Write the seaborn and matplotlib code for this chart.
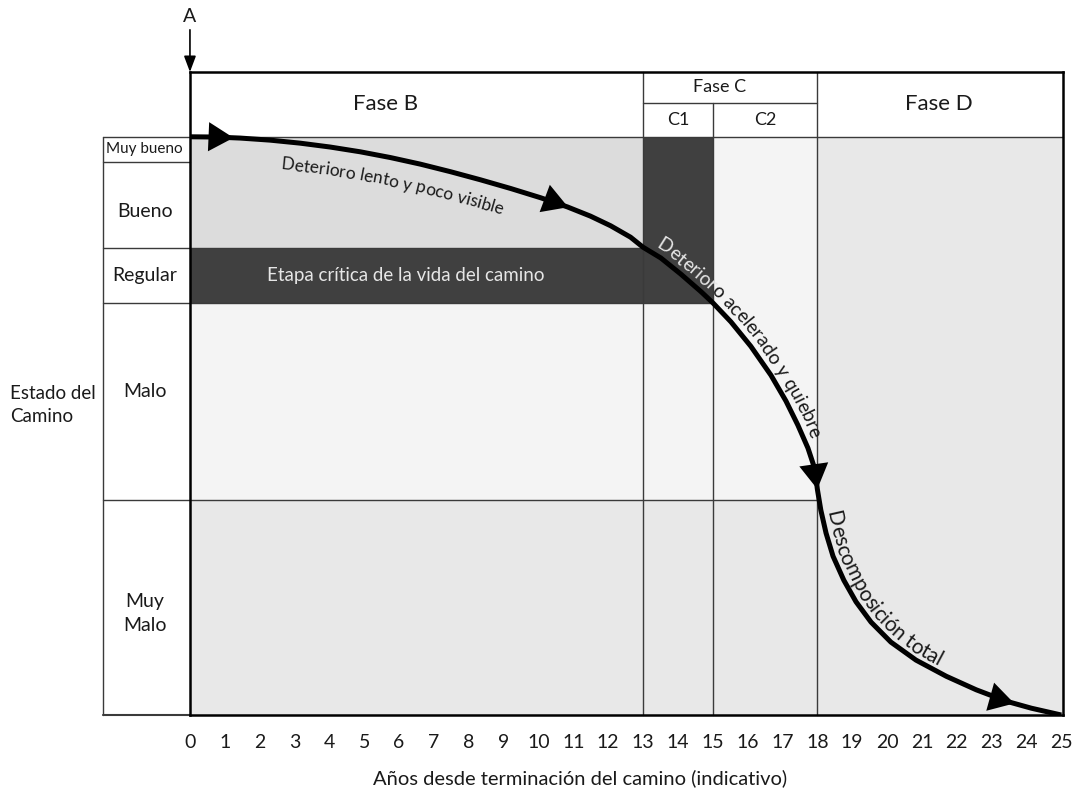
import numpy as np
import matplotlib
matplotlib.use("Agg")
import matplotlib.pyplot as plt
import seaborn as sns
from matplotlib.font_manager import FontProperties

# Datos (años vs estado del camino, escala 0-100)
anios = list(range(0, 26))
anios_curva = [0, 0.72, 1.44, 2.30, 3.16, 4.02, 4.89, 5.75, 6.61, 7.47, 8.33,
               9.20, 10.06, 10.83, 11.49, 12.07, 12.64, 13.0, 13.51, 14.08,
               14.66, 15.0, 15.52, 16.09, 16.67, 17.10, 17.44, 17.73, 17.93,
               18.0, 18.10, 18.25, 18.45, 18.76, 19.11, 19.54, 20.11, 20.83,
               21.70, 22.56, 23.42, 24.14, 25.0]
estado_curva = [100, 99.96, 99.78, 99.42, 98.9, 98.23, 97.40, 96.41, 95.27, 93.97, 92.57,
                91.06, 89.46, 87.87, 86.28, 84.61, 82.64, 80.9, 79.04, 76.27,
                73.23, 71.3, 68.0, 63.78, 58.76, 54.30, 50.15, 46.17, 42.53,
                39.07, 35.44, 31.46, 27.47, 23.31, 19.58, 16.07, 12.61, 9.50,
                6.70, 4.36, 2.39, 1.18, 0]

estados = ["Muy\nMalo", "Malo", "Regular", "Bueno", "Muy bueno"]
limites_estado = [0, 37.2, 71.3, 80.8, 95.7, 100]
pos_etiqueta_estado = [17.5, 55.9, 76.0, 87.0, 97.9]

fases = ["Fase B", "Fase C", "Fase D"]
pos_fase = [5.6, 15.2, 21.5]
subfases = ["C1", "C2"]
limites_subfase = [13, 15, 18]

flechas_anio = [1.25, 10.85, 18.0, 23.65]

TOPE = 111.2      # borde superior de la cabecera
MEDIO_C = 105.9   # linea entre "Fase C" y C1/C2
X_MAX = 25.05
FUENTE = ["Lato", "DejaVu Sans"]
TINTA = "#1a1a1a"

sns.set_theme(style="white")
plt.rcParams["font.family"] = FUENTE

fig = plt.figure(figsize=(10.75, 7.95), dpi=100)
ax = fig.add_axes([0.1767, 0.1006, 0.8122, 0.8088])
ax.set_xlim(0, X_MAX)
ax.set_ylim(0, TOPE)

# Zonas sombreadas
claro, medio, gris, oscuro = "#f4f4f4", "#e8e8e8", "#dcdcdc", "#404040"
ax.fill_between([0, 13], limites_estado[3], 100, color=gris, lw=0, zorder=0)
ax.fill_between([0, 15], limites_estado[1], limites_estado[2], color=claro, lw=0, zorder=0)
ax.fill_between([15, 18], limites_estado[1], 100, color=claro, lw=0, zorder=0)
ax.fill_between([0, 18], 0, limites_estado[1], color=medio, lw=0, zorder=0)
ax.fill_between([18, X_MAX], 0, 100, color=medio, lw=0, zorder=0)
ax.fill_between([0, 15], limites_estado[2], limites_estado[3], color=oscuro, lw=0, zorder=1)
ax.fill_between([13, 15], limites_estado[2], 100, color=oscuro, lw=0, zorder=1)

# Lineas de la tabla
lc = dict(color="#3a3a3a", lw=1.0, zorder=2, clip_on=False)
for xv in [13, 18]:
    ax.plot([xv, xv], [0, TOPE], **lc)
ax.plot([15, 15], [0, MEDIO_C], **lc)
ax.plot([13, 18], [MEDIO_C, MEDIO_C], **lc)
ax.plot([-2.5, X_MAX], [100, 100], **lc)
ax.plot([-2.5, 18], [limites_estado[1]] * 2, **lc)
ax.plot([-2.5, 15], [limites_estado[2]] * 2, **lc)
ax.plot([-2.5, 13], [limites_estado[3]] * 2, **lc)
ax.plot([-2.5, 0], [limites_estado[4]] * 2, **lc)
ax.plot([-2.5, 0], [0, 0], color="#3a3a3a", lw=1.5, zorder=2, clip_on=False)
ax.plot([-2.5, -2.5], [0, 100], **lc)

# Curva de deterioro
sns.lineplot(x=anios_curva, y=estado_curva, sort=False, color="black",
             linewidth=3.6, ax=ax, zorder=5, solid_capstyle="butt",
             solid_joinstyle="round")

fig.canvas.draw()
ren = fig.canvas.get_renderer()
pts = ax.transData.transform(np.column_stack([anios_curva, estado_curva]))
arco = np.concatenate([[0], np.cumsum(np.hypot(*np.diff(pts, axis=0).T))])
inv = ax.transData.inverted()


def en_arco(sc, s, P):
    return np.column_stack([np.interp(sc, s, P[:, 0]), np.interp(sc, s, P[:, 1])])


def punto(sc, h=7):
    p, a, b = en_arco(np.array([sc, sc - h, sc + h]), arco, pts)
    t = b - a
    return p, t / np.hypot(*t)


def texto_en_curva(texto, x_ini, base, size):
    # trazo paralelo a la curva, a 'base' pixeles
    ss = np.arange(0, arco[-1], 1.0)
    P = en_arco(ss, arco, pts)
    T = en_arco(ss + 7, arco, pts) - en_arco(ss - 7, arco, pts)
    T /= np.hypot(T[:, 0], T[:, 1])[:, None]
    N = np.column_stack([-T[:, 1], T[:, 0]])
    Q = P + N * base
    sq = np.concatenate([[0], np.cumsum(np.hypot(*np.diff(Q, axis=0).T))])

    prop = FontProperties(family=FUENTE, size=size)
    ref = ren.get_text_width_height_descent("aa", prop, ismath=False)[0]
    alto = size * fig.dpi / 72 * 0.36
    pos = np.interp(np.interp(x_ini, anios_curva, arco), ss, sq)
    for ch in texto:
        w = ren.get_text_width_height_descent("a" + ch + "a", prop, ismath=False)[0] - ref
        c = pos + w / 2
        p, a, b = en_arco(np.array([c, c - 5, c + 5]), sq, Q)
        t = (b - a) / np.hypot(*(b - a))
        n = np.array([-t[1], t[0]])
        q = inv.transform(p)
        m = inv.transform(p + n * alto)
        ang = np.degrees(np.arctan2(t[1], t[0]))
        en_oscuro = (13 <= m[0] <= 15 and m[1] >= limites_estado[2]) or \
                    (m[0] <= 15 and limites_estado[2] <= m[1] <= limites_estado[3])
        ax.text(q[0], q[1], ch, rotation=ang, rotation_mode="anchor",
                ha="center", va="baseline", fontsize=size,
                color="#e6e6e6" if en_oscuro else TINTA, zorder=6)
        pos += w


texto_en_curva("Deterioro lento y poco visible", 2.67, -28, 12.5)
texto_en_curva("Deterioro acelerado y quiebre", 13.25, 6, 13.8)
texto_en_curva("Descomposición total", 18.12, 5, 15)

# Flechas sobre la curva
for xa in flechas_anio:
    p, t = punto(np.interp(xa, anios_curva, arco))
    tip = inv.transform(p)
    back = inv.transform(p - t * 20)
    ax.annotate("", xy=tip, xytext=back,
                arrowprops=dict(arrowstyle="-|>,head_length=0.6,head_width=0.35",
                                mutation_scale=30, color="black", lw=0,
                                shrinkA=0, shrinkB=0), zorder=7)

# Flecha A
ax.annotate("", xy=(0, TOPE), xytext=(0, 118.5), annotation_clip=False,
            arrowprops=dict(arrowstyle="-|>,head_length=0.8,head_width=0.3",
                            mutation_scale=12, color="black", lw=1.2,
                            shrinkA=0, shrinkB=0))
ax.text(0, 120.8, "A", ha="center", va="center", fontsize=14, color=TINTA)

# Cabecera
for nombre, xp in zip(fases, pos_fase):
    if nombre == "Fase C":
        ax.text(xp, 108.55, nombre, ha="center", va="center", fontsize=13, color=TINTA)
    else:
        ax.text(xp, 105.6, nombre, ha="center", va="center", fontsize=16, color=TINTA)
for nombre, x0, x1 in zip(subfases, limites_subfase[:-1], limites_subfase[1:]):
    ax.text((x0 + x1) / 2, 102.95, nombre, ha="center", va="center", fontsize=13, color=TINTA)

ax.text(6.2, 76.0, "Etapa crítica de la vida del camino", ha="center", va="center",
        fontsize=13.5, color="#e6e6e6", zorder=3)

# Columna de estados
for nombre, yp in zip(estados, pos_etiqueta_estado):
    ax.text(-1.3, yp, nombre, ha="center", va="center", clip_on=False,
            fontsize=11 if nombre == "Muy bueno" else 14, color=TINTA,
            linespacing=1.5)
ax.text(-5.17, 53.6, "Estado del\nCamino", ha="left", va="center", fontsize=13.5,
        color=TINTA, linespacing=1.4)

# Ejes
ax.set_xticks(anios)
ax.set_xticklabels([str(a) for a in anios], fontsize=14, color=TINTA)
ax.set_yticks([])
ax.tick_params(axis="x", length=0, pad=14)
ax.set_xlabel("Años desde terminación del camino (indicativo)", fontsize=14.5, color=TINTA)
ax.xaxis.set_label_coords(11.2 / X_MAX, -10.9 / TOPE)
ax.xaxis.label.set_va("center")
for sp in ax.spines.values():
    sp.set_visible(True)
    sp.set_color("black")
    sp.set_linewidth(1.8)
    sp.set_zorder(8)

fig.savefig("out.png", dpi=100)
